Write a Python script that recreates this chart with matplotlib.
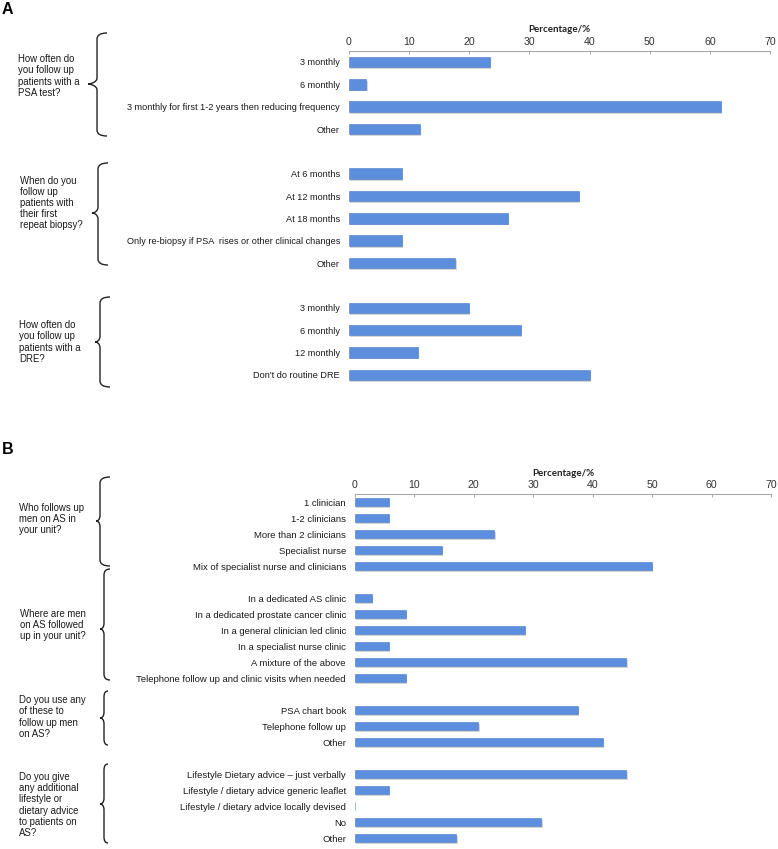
import matplotlib
matplotlib.use("Agg")
import matplotlib.pyplot as plt
from matplotlib.path import Path
from matplotlib.patches import PathPatch
import matplotlib.patheffects as pe

W, H = 778, 849

# ---------------- data ----------------
a_q1 = "How often do\nyou follow up\npatients with a\nPSA test?"
a_c1 = ["3 monthly", "6 monthly", "3 monthly for first 1-2 years then reducing frequency", "Other"]
a_v1 = [23.5, 2.9, 61.9, 11.8]

a_q2 = "When do you\nfollow up\npatients with\ntheir first\nrepeat biopsy?"
a_c2 = ["At 6 months", "At 12 months", "At 18 months",
        "Only re-biopsy if PSA  rises or other clinical changes", "Other"]
a_v2 = [8.8, 38.3, 26.5, 8.8, 17.7]

a_q3 = "How often do\nyou follow up\npatients with a\nDRE?"
a_c3 = ["3 monthly", "6 monthly", "12 monthly", "Don't do routine DRE"]
a_v3 = [20.0, 28.6, 11.4, 40.0]

b_q1 = "Who follows up\nmen on AS in\nyour unit?"
b_c1 = ["1 clinician", "1-2 clinicians", "More than 2 clinicians", "Specialist nurse",
        "Mix of specialist nurse and clinicians"]
b_v1 = [5.8, 5.8, 23.5, 14.7, 50.0]

b_q2 = "Where are men\non AS followed\nup in your unit?"
b_c2 = ["In a dedicated AS clinic", "In a dedicated prostate cancer clinic",
        "In a general clinician led clinic", "In a specialist nurse clinic",
        "A mixture of the above", "Telephone follow up and clinic visits when needed"]
b_v2 = [2.9, 8.6, 28.6, 5.7, 45.7, 8.6]

b_q3 = "Do you use any\nof these to\nfollow up men\non AS?"
b_c3 = ["PSA chart book", "Telephone follow up", "Other"]
b_v3 = [37.5, 20.8, 41.7]

b_q4 = "Do you give\nany additional\nlifestyle or\ndietary advice\nto patients on\nAS?"
b_c4 = ["Lifestyle Dietary advice \u2013 just verbally", "Lifestyle / dietary advice generic leaflet",
        "Lifestyle / dietary advice locally devised", "No", "Other"]
b_v4 = [45.7, 5.7, 0.0, 31.4, 17.1]

x_ticks = [0, 10, 20, 30, 40, 50, 60, 70]
x_title = "Percentage/%"

# ---------------- helpers ----------------
BAR = "#5b8fde"
EDGE = "#4a7cc8"
LBL_FONT = "Liberation Sans"


def fx(x):
    return x / W


def fy(y):
    return 1 - y / H


def build(groups):
    labels, vals = [], []
    for i, (cats, vs) in enumerate(groups):
        if i > 0:
            labels.append("")
            vals.append(None)
        labels.extend(cats)
        vals.extend(vs)
    return labels, vals


def panel(fig, rect_px, groups, pad, height, lsize):
    x0, y0, x1, y1 = rect_px
    ax = fig.add_axes([fx(x0), fy(y1), (x1 - x0) / W, (y1 - y0) / H])
    labels, vals = build(groups)
    ys = list(range(len(labels)))
    bx = [y for y, v in zip(ys, vals) if v is not None]
    bv = [v for v in vals if v is not None]
    bars = ax.barh(bx, bv, height=height, color=BAR, edgecolor=EDGE, linewidth=0.4)
    for b in bars:
        b.set_path_effects([pe.SimplePatchShadow(offset=(0.8, -1.2), shadow_rgbFace="#888888", alpha=0.35),
                            pe.Normal()])
    ax.set_yticks(ys)
    ax.set_yticklabels(labels, fontsize=lsize, family=LBL_FONT, color="#1a1a1a")
    ax.tick_params(axis="y", length=0, pad=pad)
    ax.set_ylim(len(labels) - 0.5, -0.5)
    ax.set_xlim(0, 70)
    ax.xaxis.tick_top()
    ax.xaxis.set_label_position("top")
    ax.set_xticks(x_ticks)
    ax.set_xticklabels([str(t) for t in x_ticks], fontsize=7.6, family=LBL_FONT, color="#333333")
    ax.tick_params(axis="x", direction="in", length=2.5, width=0.6, color="#999999", pad=3)
    for s in ["left", "right", "bottom"]:
        ax.spines[s].set_visible(False)
    ax.spines["top"].set_color("#a8a8a8")
    ax.spines["top"].set_linewidth(0.8)
    ax.set_xlabel(x_title, fontsize=7.0, family="Lato", fontweight="bold", labelpad=3, color="#222222")
    ax.patch.set_alpha(0)
    return ax


def brace(fig, xv, xr, xt, yt, yb, ytip):
    r = min(6.0, (yb - yt) / 8)
    verts = [
        (xr, yt), (xv, yt), (xv, yt + r),
        (xv, ytip - r),
        (xv, ytip - 1.5), (xt + 2, ytip), (xt, ytip),
        (xt + 2, ytip), (xv, ytip + 1.5), (xv, ytip + r),
        (xv, yb - r),
        (xv, yb), (xr, yb),
    ]
    codes = [Path.MOVETO, Path.CURVE3, Path.CURVE3,
             Path.LINETO,
             Path.CURVE4, Path.CURVE4, Path.CURVE4,
             Path.CURVE4, Path.CURVE4, Path.CURVE4,
             Path.LINETO,
             Path.CURVE3, Path.CURVE3]
    verts = [(fx(x), fy(y)) for x, y in verts]
    p = PathPatch(Path(verts, codes), transform=fig.transFigure, fill=False,
                  edgecolor="#222222", linewidth=1.0)
    fig.patches.append(p)


def question(fig, x, yc, text):
    fig.text(fx(x), fy(yc), text, ha="left", va="center", fontsize=6.9,
             family=LBL_FONT, color="#1a1a1a", linespacing=1.15)


# ---------------- figure ----------------
fig = plt.figure(figsize=(W / 100, H / 100), dpi=100)
fig.patch.set_facecolor("white")

panel(fig, (349, 50.8, 770, 386), [(a_c1, a_v1), (a_c2, a_v2), (a_c3, a_v3)], pad=6.5, height=0.47, lsize=6.6)
panel(fig, (354.7, 494, 771, 846), [(b_c1, b_v1), (b_c2, b_v2), (b_c3, b_v3), (b_c4, b_v4)], pad=6.3, height=0.5, lsize=6.8)

fig.text(fx(2), fy(10), "A", fontsize=11.5, fontweight="bold", family="Liberation Sans", ha="left", va="center")
fig.text(fx(2), fy(450), "B", fontsize=11.5, fontweight="bold", family="Liberation Sans", ha="left", va="center")

question(fig, 18, 76, a_q1)
question(fig, 20, 203, a_q2)
question(fig, 19, 342, a_q3)
question(fig, 19, 519, b_q1)
question(fig, 20, 625, b_q2)
question(fig, 19, 717, b_q3)
question(fig, 19, 805, b_q4)

brace(fig, 97, 107, 88, 33, 136, 84)
brace(fig, 98, 108, 92, 163, 265, 213)
brace(fig, 100, 110, 95, 297, 387, 342)
brace(fig, 100, 110, 96, 477, 566, 521)
brace(fig, 104, 110, 100, 569, 680, 629)
brace(fig, 104, 108, 100, 691, 745, 718)
brace(fig, 104, 108, 100, 764, 843, 804)

fig.savefig("out.png", dpi=100, facecolor="white")
